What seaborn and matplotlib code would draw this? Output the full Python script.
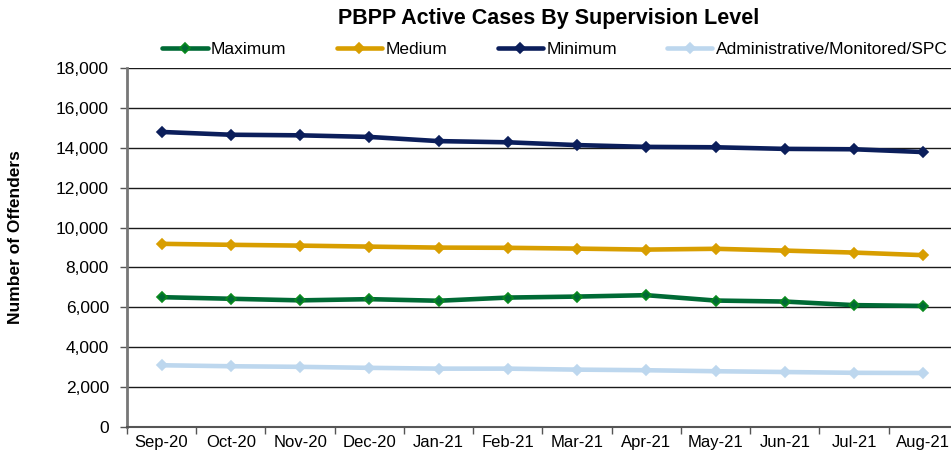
import pandas as pd
import seaborn as sns
import matplotlib.pyplot as plt
from matplotlib.ticker import FuncFormatter, FixedLocator

# Monthly active cases
months = ['Sep-20', 'Oct-20', 'Nov-20', 'Dec-20', 'Jan-21', 'Feb-21',
          'Mar-21', 'Apr-21', 'May-21', 'Jun-21', 'Jul-21', 'Aug-21']
maximum = [6500, 6420, 6340, 6400, 6320, 6480, 6530, 6600, 6330, 6280, 6100, 6060]
medium = [9180, 9130, 9090, 9040, 8990, 8980, 8940, 8890, 8930, 8840, 8740, 8610]
minimum = [14800, 14660, 14630, 14550, 14340, 14280, 14140, 14050, 14030, 13950, 13930, 13790]
admin = [3080, 3030, 3000, 2950, 2910, 2910, 2860, 2830, 2780, 2740, 2700, 2690]

levels = ['Maximum', 'Medium', 'Minimum', 'Administrative/Monitored/SPC']
colors = ['#006A35', '#D89E00', '#0B1E5B', '#BDD7EE']
edge_colors = ['#0A8A1E', '#D89E00', '#0B1E5B', '#BDD7EE']

df = pd.DataFrame({
    'month_idx': list(range(len(months))) * 4,
    'cases': maximum + medium + minimum + admin,
    'level': [lv for lv in levels for _ in months],
})

sns.set_style('white')
plt.rcParams['font.family'] = ['Liberation Sans', 'DejaVu Sans']
plt.rcParams['text.color'] = 'black'
plt.rcParams['xtick.color'] = 'black'
plt.rcParams['ytick.color'] = 'black'

fig = plt.figure(figsize=(9.51, 4.55), dpi=100)
# plot area runs slightly past the right edge, as in the cropped original
ax = fig.add_axes([0.1335, 0.0625, 0.8738, 0.7875])

# horizontal gridlines
for v in range(2000, 18001, 2000):
    ax.axhline(v, color='#1a1a1a', lw=1.0, zorder=0)

for lv, c, ec in zip(levels, colors, edge_colors):
    sns.lineplot(data=df[df['level'] == lv], x='month_idx', y='cases', ax=ax,
                 color=c, lw=3.3, marker='D', markersize=9.5,
                 markeredgecolor=ec, markeredgewidth=1.2, label=lv, legend=False)

ax.set_xlim(-0.5, len(months) - 0.5)
ax.set_ylim(0, 18000)
ax.set_yticks(range(0, 18001, 2000))
ax.yaxis.set_major_formatter(FuncFormatter(lambda v, p: f'{int(v):,}'))
ax.set_xticks(range(len(months)))
ax.set_xticklabels(months)
ax.xaxis.set_minor_locator(FixedLocator([i - 0.5 for i in range(len(months) + 1)]))
ax.tick_params(axis='x', which='major', length=0, labelsize=12, pad=6, labelcolor='black')
ax.tick_params(axis='x', which='minor', length=5, width=1, color='#555555', bottom=True)
ax.tick_params(axis='y', length=5, width=1, color='#555555', labelsize=12.5, left=True,
               labelcolor='black', pad=8)
ax.set_xlabel('')
ax.set_ylabel('')

for s in ['top', 'right']:
    ax.spines[s].set_visible(False)
ax.spines['left'].set_color('#777777')
ax.spines['left'].set_linewidth(2)
ax.spines['bottom'].set_color('#555555')
ax.spines['bottom'].set_linewidth(1.5)

fig.text(0.577, 0.96, 'PBPP Active Cases By Supervision Level', ha='center', va='center',
         fontsize=15.5, fontweight='bold')
fig.text(0.016, 0.478, 'Number of Offenders', rotation=90, ha='center', va='center',
         fontsize=12.5, fontweight='bold')

handles, labels = ax.get_legend_handles_labels()
for h in handles:
    h.set_markersize(5.5)
fig.legend(handles, labels, loc='center', bbox_to_anchor=(0.5836, 0.892), ncol=4,
           frameon=False, fontsize=12.5, handlelength=2.6, handletextpad=0.2,
           columnspacing=2.9)

fig.savefig('out.png', dpi=100)
